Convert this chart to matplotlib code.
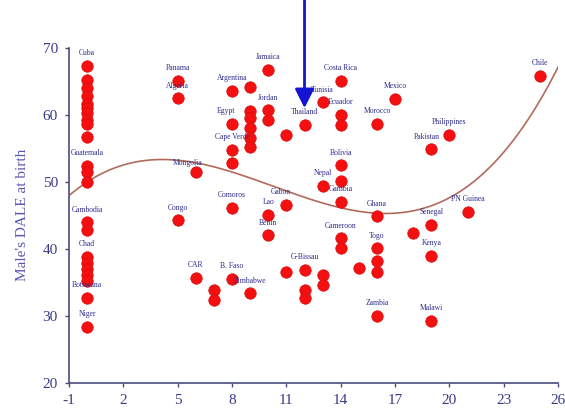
import numpy as np
import matplotlib
matplotlib.use("Agg")
import matplotlib.pyplot as plt

plt.rcParams["axes.unicode_minus"] = False

# x position (years) and male DALE at birth
point_x = [0] * 22 + [5, 5, 5, 6, 6, 7, 7,
           8, 8, 8, 8, 8, 8,
           9, 9, 9, 9, 9, 9, 9,
           10, 10, 10, 10, 10,
           11, 11, 11,
           12, 12, 12, 12,
           13, 13, 13, 13,
           14, 14, 14, 14, 14, 14, 14, 14,
           15,
           16, 16, 16, 16, 16, 16,
           17, 18, 19, 19, 19, 19, 20, 21, 25]
point_y = [67.3, 65.2, 64.0, 62.8, 61.6, 61.0, 60.3, 59.2, 58.6, 56.7,
           52.4, 51.4, 50.0, 44.0, 42.8,
           38.8, 37.9, 37.0, 36.1, 35.2, 32.7, 28.4,
           65.1, 62.5, 44.3, 51.5, 35.7, 33.9, 32.4,
           63.6, 58.7, 54.8, 52.8, 46.1, 35.5,
           64.2, 60.6, 59.6, 58.1, 56.6, 55.2, 33.4,
           66.7, 60.7, 59.3, 45.1, 42.0,
           57.0, 46.6, 36.6,
           58.5, 36.9, 33.9, 32.7,
           61.9, 49.4, 36.1, 34.6,
           65.1, 60.0, 58.5, 52.5, 50.1, 47.0, 41.6, 40.1,
           37.2,
           58.7, 44.9, 40.1, 38.2, 36.6, 30.0,
           62.4, 42.4, 54.9, 43.6, 39.0, 29.3, 57.0, 45.5, 65.8]
point_label = (["Cuba"] + [""] * 9 + ["Guatemala", "", "", "Cambodia", "",
               "Chad", "", "", "", "", "Botswana", "Niger",
               "Panama", "Algeria", "Congo", "Mongolia", "CAR", "", "",
               "Argentina", "Egypt", "Cape Verde", "", "Comoros", "B. Faso",
               "", "", "", "", "", "", "Zimbabwe",
               "Jamaica", "Jordan", "", "Lao", "Benin",
               "", "Gabon", "",
               "Thailand", "G-Bissau", "", "",
               "Tunisia", "Nepal", "", "",
               "Costa Rica", "Ecuador", "", "Bolivia", "", "Gambia", "Cameroon", "",
               "",
               "Morocco", "Ghana", "Togo", "", "", "Zambia",
               "Mexico", "", "Pakistan", "Senegal", "Kenya", "Malawi",
               "Philippines", "PN Guinea", "Chile"])

x_ticks = [-1, 2, 5, 8, 11, 14, 17, 20, 23, 26]
y_ticks = [20, 30, 40, 50, 60, 70]

# label nudges in points (dx, dy) where a label is not centred above its dot
label_shift = {"Mongolia": (-6, 6), "Gabon": (-4, 9), "Egypt": (-4, 9), "Pakistan": (-3, 9)}

navy = "#2b2b8c"
axis_col = "#4b4b7e"

fig = plt.figure(figsize=(5.65, 4.09), dpi=100)
ax = fig.add_axes([0.122, 0.064, 0.866, 0.819])

# cubic trend through the scatter
coef = np.polyfit(point_x, point_y, 3)
xs = np.linspace(-1, 26, 200)
ax.plot(xs, np.polyval(coef, xs), color="#b26a5c", lw=1.2, zorder=1)

ax.scatter(point_x, point_y, s=68, color="#f41010", edgecolors="#dc0a0a",
           linewidths=0.5, zorder=3)

for x, y, name in zip(point_x, point_y, point_label):
    if not name:
        continue
    dx, dy = label_shift.get(name, (0, 9))
    ax.annotate(name, (x, y), xytext=(dx, dy), textcoords="offset points",
                ha="center", va="center", fontsize=5.5, color=navy,
                family="Liberation Serif", zorder=4)

# arrow pointing at Thailand
ax.annotate("", xy=(12, 61.0), xytext=(12, 77.5),
            arrowprops=dict(arrowstyle="-|>", color="#1414d2", lw=2,
                            mutation_scale=29, shrinkA=0, shrinkB=0),
            annotation_clip=False, zorder=5)

ax.set_xlim(-1, 26)
ax.set_ylim(20, 70)
ax.set_xticks(x_ticks)
ax.set_yticks(y_ticks)
for side in ["top", "right"]:
    ax.spines[side].set_visible(False)
for side in ["left", "bottom"]:
    ax.spines[side].set_color(axis_col)
    ax.spines[side].set_linewidth(1.2)
ax.tick_params(colors=axis_col, length=3, width=1, pad=5)
for lab in ax.get_xticklabels() + ax.get_yticklabels():
    lab.set_family("Liberation Serif")
    lab.set_fontsize(11)
    lab.set_color("#3a3a86")
ax.set_ylabel("Male's DALE at birth", family="Liberation Serif", fontsize=11,
              color="#5858b0", labelpad=10)

fig.savefig("out.png", dpi=100)
